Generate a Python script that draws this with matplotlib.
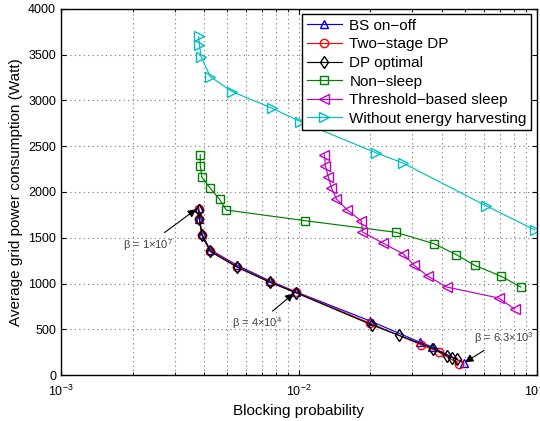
import numpy as np
import matplotlib.pyplot as plt
from matplotlib.ticker import LogLocator, NullFormatter

plt.rcParams['font.family'] = ['Liberation Sans', 'DejaVu Sans']
plt.rcParams['mathtext.default'] = 'regular'

# ---- datos ----
bs_x = [0.00379, 0.00382, 0.00391, 0.00424, 0.00549, 0.00753, 0.0097, 0.0200, 0.0322, 0.0362, 0.0494]
bs_y = [1830, 1710, 1540, 1370, 1200, 1030, 910, 590, 360, 310, 130]

two_x = [0.00379, 0.00382, 0.00391, 0.00424, 0.00549, 0.00753, 0.0097, 0.0200, 0.0327, 0.0388, 0.0470]
two_y = [1810, 1700, 1530, 1360, 1185, 1020, 905, 565, 330, 250, 125]

dp_x = [0.00379, 0.00382, 0.00391, 0.00424, 0.00549, 0.00753, 0.0097, 0.0202, 0.0263, 0.0367, 0.0421, 0.0442, 0.0464]
dp_y = [1800, 1700, 1530, 1350, 1180, 1015, 900, 550, 435, 290, 210, 190, 175]

ns_x = [0.00385, 0.00385, 0.00391, 0.00424, 0.00464, 0.00495, 0.01065, 0.0255, 0.0370, 0.0459, 0.0548, 0.0705, 0.0857]
ns_y = [2405, 2288, 2161, 2041, 1920, 1803, 1686, 1560, 1435, 1315, 1199, 1082, 962]

th_x = [0.0128, 0.01293, 0.0133, 0.0137, 0.01438, 0.0160, 0.0183, 0.0185, 0.0225, 0.0275, 0.0304, 0.0348, 0.0418, 0.0692, 0.0807]
th_y = [2405, 2284, 2164, 2044, 1924, 1803, 1683, 1563, 1443, 1323, 1202, 1082, 962, 842, 721]

weh_x = [0.00379, 0.00382, 0.00388, 0.00424, 0.00523, 0.00771, 0.01014, 0.0210, 0.0275, 0.0610, 0.0982]
weh_y = [3698, 3607, 3479, 3260, 3097, 2915, 2769, 2430, 2314, 1851, 1585]

etiquetas = ['BS on\u2212off', 'Two\u2212stage DP', 'DP optimal', 'Non\u2212sleep',
             'Threshold\u2212based sleep', 'Without energy harvesting']

fig = plt.figure(figsize=(5.4, 4.21), dpi=100)
ax = fig.add_axes([0.113, 0.109, 0.881, 0.870])

lw = 0.85
ms = 6
ax.plot(bs_x, bs_y, '-^', color='b', mfc='none', lw=lw, ms=ms, label=etiquetas[0])
ax.plot(two_x, two_y, '-o', color='r', mfc='none', lw=lw, ms=ms, label=etiquetas[1])
ax.plot(dp_x, dp_y, '-d', color='k', mfc='none', lw=lw, ms=ms, label=etiquetas[2])
ax.plot(ns_x, ns_y, '-s', color='#008000', mfc='none', lw=lw, ms=ms, label=etiquetas[3])
ax.plot(th_x, th_y, '-<', color='m', mfc='none', lw=lw, ms=ms + 1, label=etiquetas[4])
ax.plot(weh_x, weh_y, '->', color='c', mfc='none', lw=lw, ms=ms + 1, label=etiquetas[5])

ax.set_xscale('log')
ax.set_xlim(1e-3, 1e-1)
ax.set_ylim(0, 4000)
ax.set_yticks(np.arange(0, 4001, 500))
ax.xaxis.set_minor_locator(LogLocator(base=10, subs=np.arange(2, 10)))
ax.xaxis.set_minor_formatter(NullFormatter())

# rejilla punteada estilo MATLAB
ax.grid(True, which='major', linestyle=(0, (1, 3)), color='0.45', lw=0.8)
ax.grid(True, which='minor', axis='x', linestyle=(0, (1, 3)), color='0.45', lw=0.8)

ax.tick_params(which='both', direction='in', top=True, right=True, labelsize=9)
ax.tick_params(axis='x', pad=6)
for s in ax.spines.values():
    s.set_linewidth(1.0)

ax.set_xlabel('Blocking probability', fontsize=11)
ax.set_ylabel('Average grid power consumption (Watt)', fontsize=11)

leg = ax.legend(loc='upper right', fontsize=11, fancybox=False, framealpha=1,
                edgecolor='k', borderaxespad=0.35, handlelength=2.3,
                labelspacing=0.3, borderpad=0.3, handletextpad=0.5)
leg.get_frame().set_linewidth(1.0)

# anotaciones de beta
arr = dict(arrowstyle='-|>', color='k', lw=0.8, mutation_scale=12)
ax.annotate(r'$\beta$ = 1$\times$10$^7$', xy=(0.00378, 1830), xytext=(0.00182, 1380),
            fontsize=8, color='0.25', arrowprops=arr)
ax.annotate(r'$\beta$ = 4$\times$10$^4$', xy=(0.0097, 910), xytext=(0.00525, 520),
            fontsize=8, color='0.25', arrowprops=arr)
ax.annotate(r'$\beta$ = 6.3$\times$10$^3$', xy=(0.0488, 125), xytext=(0.0545, 360),
            fontsize=8, color='0.25', arrowprops=arr)

plt.savefig('out.png', dpi=100)
